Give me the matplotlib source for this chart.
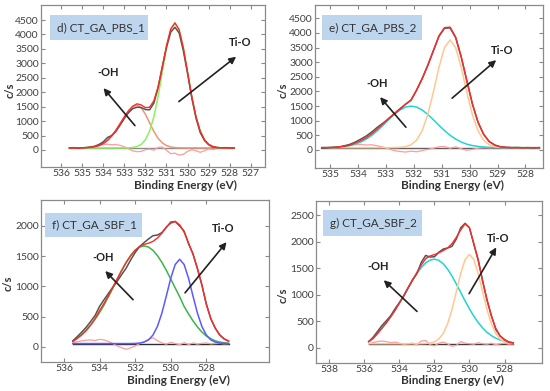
import matplotlib
matplotlib.use("Agg")
import matplotlib.pyplot as plt
from matplotlib.patches import Rectangle, FancyArrowPatch

plt.rcParams['font.family'] = ['Lato', 'DejaVu Sans']

W, H = 550, 391

# ---------------- data ----------------
# panel d) CT_GA_PBS_1
x_d = [535.6, 535.4, 535.2, 535.0, 534.8, 534.6, 534.4, 534.2, 534.0, 533.8,
       533.6, 533.4, 533.2, 533.0, 532.8, 532.6, 532.4, 532.2, 532.0, 531.8,
       531.6, 531.4, 531.2, 531.0, 530.8, 530.6, 530.4, 530.2, 530.0, 529.8,
       529.6, 529.4, 529.2, 529.0, 528.8, 528.6, 528.4, 528.2, 528.0, 527.8]
oh_d = [70, 70, 70, 74, 79, 90, 112, 153, 222, 329, 481, 678, 908, 1144, 1353, 1498, 1550, 1464, 1236, 937,
        641, 404, 245, 150, 103, 82, 74, 71, 70, 70, 70, 70, 70, 70, 70, 70, 70, 70, 70, 70]
tio_d = [70, 70, 70, 70, 70, 70, 70, 70, 70, 70, 70, 70, 70, 70, 75, 87, 118, 194, 354, 653,
         1146, 1846, 2692, 3530, 4157, 4390, 4157, 3530, 2692, 1846, 1146, 653, 354, 194, 118, 87, 75, 71, 70, 70]
env_d = [70, 70, 70, 74, 79, 90, 112, 153, 222, 329, 481, 678, 908, 1144, 1358, 1515, 1598, 1560, 1465, 1480,
         1700, 2180, 2867, 3610, 4190, 4402, 4161, 3531, 2692, 1846, 1146, 653, 354, 194, 118, 87, 75, 71, 70, 70]
data_d = [70, 80, 60, 75, 85, 100, 130, 190, 280, 430, 500, 640, 860, 1090, 1290, 1430, 1480, 1470, 1400, 1390,
          1620, 2150, 2880, 3560, 4080, 4250, 4050, 3430, 2640, 1800, 1100, 600, 330, 180, 100, 80, 75, 80, 70, 70]
res_d = [0, 10, -10, 0, 10, 20, 40, 80, 120, 130, 110, 120, 90, 40, -30, -100, -130, -120, -60, -40,
         -80, 20, 30, -80, -200, -180, -250, -220, -120, -60, -100, -150, -100, -30, -60, -20, 0, 10, -10, 0]
base_d = 70

# panel e) CT_GA_PBS_2
x_e = [535.3, 535.1, 534.9, 534.7, 534.5, 534.3, 534.1, 533.9, 533.7, 533.5,
       533.3, 533.1, 532.9, 532.7, 532.5, 532.3, 532.1, 531.9, 531.7, 531.5,
       531.3, 531.1, 530.9, 530.7, 530.5, 530.3, 530.1, 529.9, 529.7, 529.5,
       529.3, 529.1, 528.9, 528.7, 528.5, 528.3, 528.1, 527.9, 527.7, 527.5]
oh_e = [83, 85, 91, 102, 121, 152, 200, 272, 373, 503, 664, 845, 1037, 1217, 1367, 1466, 1500, 1466, 1367, 1217,
        1037, 845, 664, 503, 373, 272, 200, 152, 121, 102, 91, 85, 83, 81, 80, 80, 80, 80, 80, 80]
tio_e = [80, 80, 80, 80, 80, 80, 80, 80, 80, 80, 80, 80, 80, 82, 89, 112, 178, 337, 661, 1206,
         1972, 2818, 3499, 3760, 3499, 2818, 1972, 1206, 661, 337, 178, 112, 89, 82, 80, 80, 80, 80, 80, 80]
env_e = [83, 85, 91, 102, 125, 160, 240, 320, 420, 560, 720, 900, 1080, 1250, 1410, 1560, 1710, 2050, 2450, 2900,
         3400, 3900, 4180, 4200, 3858, 3188, 2368, 1580, 957, 539, 292, 168, 113, 91, 83, 81, 80, 80, 80, 80]
data_e = [60, 70, 85, 100, 140, 190, 270, 370, 480, 620, 780, 920, 1070, 1230, 1390, 1560, 1700, 2040, 2430, 2880,
          3380, 3880, 4160, 4170, 3840, 3170, 2370, 1570, 950, 540, 290, 170, 110, 90, 80, 85, 75, 80, 70, 80]
res_e = [-20, -30, -10, 20, 60, 90, 100, 110, 90, 100, 60, 20, -40, -100, -130, -150, -120, -140, -100, -60,
         -20, 30, 40, -20, 30, -40, -90, -60, -20, 0, -10, 0, 0, 0, 0, 0, 0, 0, 0, 0]
base_e = 80

# panel f) CT_GA_SBF_1
x_f = [535.5, 535.25, 535.0, 534.75, 534.5, 534.25, 534.0, 533.75, 533.5, 533.25,
       533.0, 532.75, 532.5, 532.25, 532.0, 531.75, 531.5, 531.25, 531.0, 530.75,
       530.5, 530.25, 530.0, 529.75, 529.5, 529.25, 529.0, 528.75, 528.5, 528.25,
       528.0, 527.75, 527.5, 527.25, 527.0, 526.75]
oh_f = [95, 145, 205, 280, 364, 458, 567, 692, 830, 975, 1123, 1267, 1399, 1511, 1597, 1652, 1670, 1652,
        1597, 1511, 1399, 1267, 1123, 975, 830, 670, 545, 430, 330, 245, 180, 135, 100, 80, 68, 60]
tio_f = [55, 55, 55, 55, 55, 55, 55, 55, 55, 55, 55, 55, 55, 55, 57, 63, 79, 116,
         195, 338, 557, 840, 1135, 1363, 1449, 1363, 1135, 840, 557, 338, 195, 116, 79, 63, 57, 55]
env_f = [90, 140, 200, 270, 360, 470, 600, 720, 850, 990, 1130, 1270, 1400, 1510, 1600, 1660, 1695, 1715,
         1745, 1800, 1880, 1985, 2045, 2075, 2020, 1900, 1720, 1530, 1300, 1020, 700, 470, 310, 195, 135, 95]
data_f = [100, 170, 245, 325, 420, 520, 670, 780, 885, 990, 1090, 1200, 1305, 1440, 1560, 1660, 1725, 1785,
          1840, 1850, 1890, 1975, 2065, 2075, 2000, 1915, 1705, 1540, 1290, 1025, 710, 465, 310, 200, 130, 95]
res_f = [10, 30, 45, 55, 60, 50, 70, 60, 35, 0, -40, -70, -95, -70, -40, 0, 30, 70,
         95, 50, 10, -10, 20, 0, -20, 15, -15, 10, -10, 5, 10, -5, 0, 5, -5, 0]
base_f = 55

# panel g) CT_GA_SBF_2
x_g = [535.75, 535.5, 535.25, 535.0, 534.75, 534.5, 534.25, 534.0, 533.75, 533.5,
       533.25, 533.0, 532.75, 532.5, 532.25, 532.0, 531.75, 531.5, 531.25, 531.0,
       530.75, 530.5, 530.25, 530.0, 529.75, 529.5, 529.25, 529.0, 528.75, 528.5,
       528.25, 528.0, 527.75, 527.5]
oh_g = [120, 180, 270, 370, 470, 584, 707, 843, 986, 1132, 1273, 1403, 1514, 1599, 1652, 1670, 1648,
        1584, 1483, 1353, 1203, 1044, 885, 734, 596, 477, 376, 295, 232, 184, 150, 125, 109, 98]
tio_g = [80, 80, 80, 80, 80, 80, 80, 80, 80, 80, 80, 80, 81, 84, 93, 115, 168,
         272, 452, 721, 1057, 1400, 1662, 1760, 1662, 1400, 1057, 721, 452, 272, 168, 115, 93, 84]
env_g = [120, 180, 270, 370, 470, 584, 707, 843, 986, 1132, 1273, 1420, 1560, 1680, 1730, 1755, 1790,
         1830, 1880, 1960, 2080, 2220, 2335, 2260, 1960, 1640, 1260, 910, 600, 370, 225, 150, 115, 95]
data_g = [120, 200, 310, 420, 510, 604, 737, 853, 976, 1132, 1283, 1400, 1610, 1740, 1710, 1715, 1800,
          1860, 1880, 1910, 2050, 2260, 2345, 2260, 1950, 1660, 1260, 900, 610, 350, 225, 160, 105, 95]
res_g = [0, 20, 40, 50, 40, 20, 30, 10, -10, 0, 10, -20, 50, 60, -20, -40, 10,
         30, 0, -50, -30, 40, 10, 0, -10, 20, 0, -10, 10, -20, 0, 10, -10, 0]
base_g = 80

labels = ["d) CT_GA_PBS_1", "e) CT_GA_PBS_2", "f) CT_GA_SBF_1", "g) CT_GA_SBF_2"]
xticks_d = [536, 535, 534, 533, 532, 531, 530, 529, 528, 527]
xticks_e = [535, 534, 533, 532, 531, 530, 529, 528]
xticks_f = [536, 534, 532, 530, 528]
xticks_g = [538, 536, 534, 532, 530, 528]
yticks_pbs = [0, 500, 1000, 1500, 2000, 2500, 3000, 3500, 4000, 4500]
yticks_f = [0, 500, 1000, 1500, 2000]
yticks_g = [0, 500, 1000, 1500, 2000, 2500]

# ---------------- figure ----------------
fig = plt.figure(figsize=(W / 100, H / 100), dpi=100)


def fx(px):
    return px / W


def fy(py):
    return 1 - py / H


def make_axes(l, t, r, b):
    return fig.add_axes([fx(l), fy(b), (r - l) / W, (b - t) / H])


panels = [
    dict(box=(41, 5, 265, 167), x=x_d, oh=oh_d, tio=tio_d, env=env_d, data=data_d, res=res_d, base=base_d,
         xlim=(536.95, 526.33), ylim=(-590, 5020), xt=xticks_d, yt=yticks_pbs,
         c_oh='#e8977c', c_tio='#8ff05c', c_base='#8c8c8c',
         lab=labels[0], lbox=(50, 15, 148, 40),
         ohtxt=(108, 72), titxt=(240, 42), oharr=((136.7, 127.7), (101.7, 86)), tiarr=((176.7, 103.3), (238.3, 55)),
         cs=(10, 90), xl=(185, 185.5)),
    dict(box=(315, 5, 543, 168), x=x_e, oh=oh_e, tio=tio_e, env=env_e, data=data_e, res=res_e, base=base_e,
         xlim=(535.54, 527.37), ylim=(-615, 4954), xt=xticks_e, yt=yticks_pbs,
         c_oh='#22d4d4', c_tio='#ffc891', c_base='#606060',
         lab=labels[1], lbox=(322, 15, 422, 40),
         ohtxt=(376.7, 83.3), titxt=(501.7, 50), oharr=((407.7, 129.3), (378.3, 95)), tiarr=((450, 100), (498.3, 58.3)),
         cs=(283, 90), xl=(452.5, 185)),
    dict(box=(41, 200, 269, 362), x=x_f, oh=oh_f, tio=tio_f, env=env_f, data=data_f, res=res_f, base=base_f,
         xlim=(537.29, 524.48), ylim=(-250, 2430), xt=xticks_f, yt=yticks_f,
         c_oh='#3cb44a', c_tio='#5a5aff', c_base='#303030',
         lab=labels[2], lbox=(45, 213, 142, 237),
         ohtxt=(103.3, 257.7), titxt=(223.3, 228.3), oharr=((135, 301.7), (103.3, 269)), tiarr=((183.3, 295), (228.3, 240)),
         cs=(8, 283), xl=(178.5, 380.5)),
    dict(box=(316, 201, 542, 363), x=x_g, oh=oh_g, tio=tio_g, env=env_g, data=data_g, res=res_g, base=base_g,
         xlim=(538.76, 525.86), ylim=(-283, 2764), xt=xticks_g, yt=yticks_g,
         c_oh='#22d4d4', c_tio='#ffc891', c_base='#404040',
         lab=labels[3], lbox=(323, 210, 422, 236),
         ohtxt=(378.3, 266), titxt=(497.7, 238.3), oharr=((419, 313.3), (381.7, 278.3)), tiarr=((467.7, 296), (497.7, 245)),
         cs=(283, 295), xl=(452.5, 380)),
]

for p in panels:
    ax = make_axes(*p['box'])
    x = p['x']
    base = p['base']
    ax.plot([x[0], x[-1]], [base, base], color=p['c_base'], lw=1.0, zorder=2)
    ax.plot(x, [base + r for r in p['res']], color='#ff9c9c', lw=0.9, zorder=2)
    ax.plot(x, p['oh'], color=p['c_oh'], lw=1.1, zorder=3)
    ax.plot(x, p['tio'], color=p['c_tio'], lw=1.1, zorder=3)
    ax.plot(x, p['data'], color='#555555', lw=1.1, zorder=4)
    ax.plot(x, p['env'], color='#ff2a2a', lw=1.0, zorder=5)
    ax.set_xlim(*p['xlim'])
    ax.set_ylim(*p['ylim'])
    ax.set_xticks(p['xt'])
    ax.set_yticks(p['yt'])
    ax.tick_params(direction='in', length=3, width=0.8, colors='#888888', labelcolor='#404040',
                   labelsize=7.5, top=True, right=True, pad=1.5)
    ax.tick_params(axis='y', pad=1.5)
    for s in ax.spines.values():
        s.set_color('#8a8a8a')
        s.set_linewidth(0.9)
    # label box
    l, t, r, b = p['lbox']
    fig.patches.append(Rectangle((fx(l), fy(b)), (r - l) / W, (b - t) / H, transform=fig.transFigure,
                                 facecolor='#bdd6ee', edgecolor='none', zorder=6, figure=fig))
    fig.text(fx(l + 7), fy((t + b) / 2), p['lab'], fontsize=8.5, color='#333333', ha='left', va='center', zorder=7)
    # annotations
    fig.text(fx(p['ohtxt'][0]), fy(p['ohtxt'][1]), '-OH', fontsize=8, fontweight='bold', color='#222222',
             ha='center', va='center', zorder=7)
    fig.text(fx(p['titxt'][0]), fy(p['titxt'][1]), 'Ti-O', fontsize=8, fontweight='bold', color='#222222',
             ha='center', va='center', zorder=7)
    for (s, e) in (p['oharr'], p['tiarr']):
        fig.add_artist(FancyArrowPatch((fx(s[0]), fy(s[1])), (fx(e[0]), fy(e[1])),
                                       transform=fig.transFigure, arrowstyle='-|>',
                                       mutation_scale=10, color='#222222', lw=1.2, zorder=7))
    fig.text(fx(p['cs'][0]), fy(p['cs'][1]), 'c/s', fontsize=8, fontweight='bold', color='#333333',
             rotation=90, ha='center', va='center')
    fig.text(fx(p['xl'][0]), fy(p['xl'][1]), 'Binding Energy (eV)', fontsize=8.5, fontweight='bold',
             color='#333333', ha='center', va='center')

fig.savefig('out.png', dpi=100)
